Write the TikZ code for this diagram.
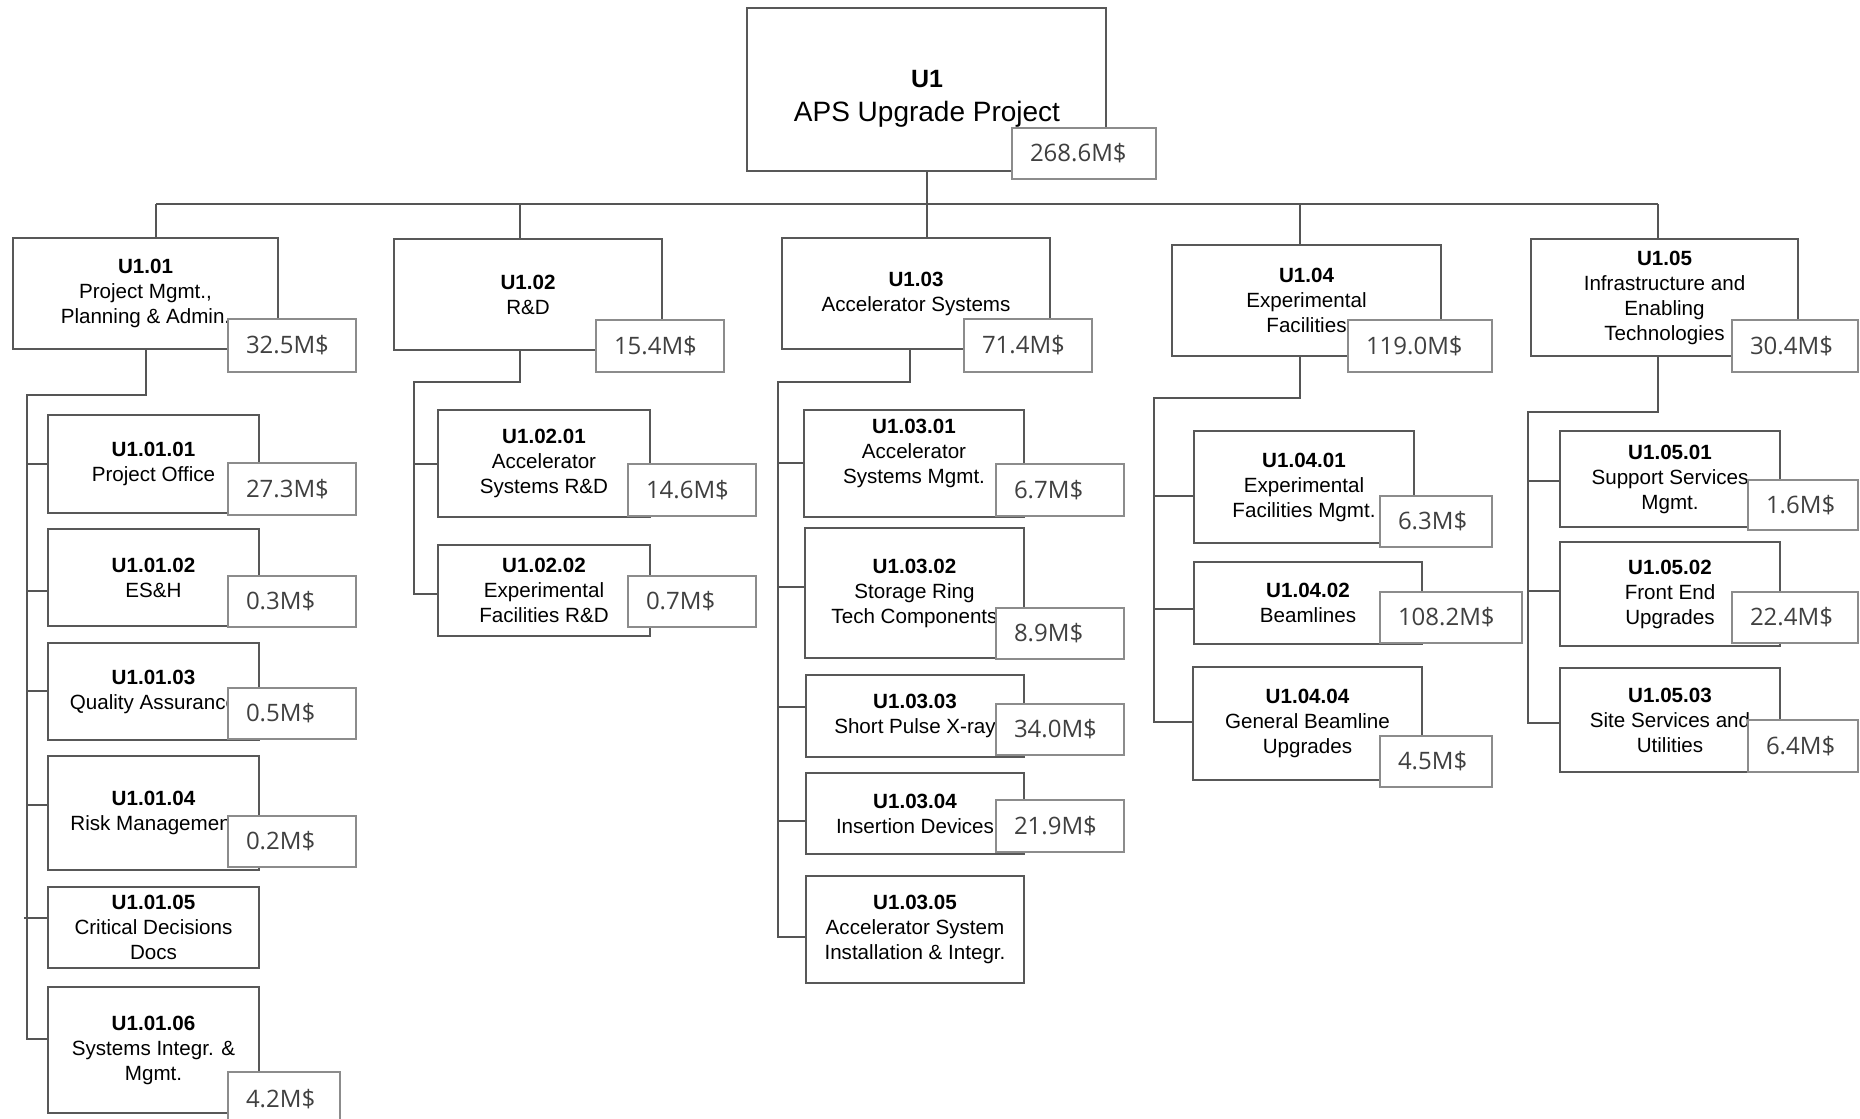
\documentclass[tikz,border=0pt]{standalone}
\usepackage{fontspec}
\setmainfont{Liberation Sans}
\newfontfamily\costfont{Open Sans}
\definecolor{boxline}{HTML}{585858}
\definecolor{costline}{HTML}{8C8C8C}
\definecolor{costtext}{HTML}{404040}
\definecolor{linkline}{HTML}{555555}
\tikzset{
  wbsbox/.style={draw=boxline, line width=0.9pt, fill=white, inner sep=1pt, align=center, font=\fontsize{10.3}{12.5}\selectfont},
  costbox/.style={draw=costline, line width=0.9pt, fill=white, inner xsep=9pt, inner ysep=0pt, align=left, font=\costfont\fontsize{12}{14}\selectfont, text=costtext},
  link/.style={draw=linkline, line width=0.9pt},
}
\newcommand\wbsnode[6]{%
  \pgfmathsetmacro\wbsW{(#4-#2)*0.5}%
  \pgfmathsetmacro\wbsH{(#5-#3)*0.5}%
  \pgfmathsetmacro\wbsX{(#2+#4)/2}%
  \pgfmathsetmacro\wbsY{(#3+#5)/2}%
  \node[wbsbox, minimum width=\wbsW pt, minimum height=\wbsH pt] (#1) at (\wbsX,\wbsY) {#6};%
}
\newcommand\costnode[6]{%
  \pgfmathsetmacro\wbsW{(#4-#2)*0.5-18}%
  \pgfmathsetmacro\wbsH{(#5-#3)*0.5}%
  \pgfmathsetmacro\wbsX{(#2+#4)/2}%
  \pgfmathsetmacro\wbsY{(#3+#5)/2}%
  \node[costbox, text width=\wbsW pt, minimum height=\wbsH pt] (#1) at (\wbsX,\wbsY) {\raisebox{-3.2pt}{#6}};%
}
\begin{document}
\begin{tikzpicture}[x=0.5pt,y=-0.5pt]
\useasboundingbox[fill=white] (0,0) rectangle (1860,1119);

% ---- top
\wbsnode{u1}{747}{8}{1106}{171}{}
\node[font=\fontsize{14}{17}\selectfont, align=center] (u1txt) at (927,99) {{\fontsize{12.5}{15}\selectfont\bfseries U1}\\APS Upgrade Project};
\costnode{k1}{1012}{128}{1156}{179}{268.6M\$}

% ---- level 1
\wbsnode{u101}{13}{238}{278}{349}{\textbf{U1.01}\\Project Mgmt.,\\Planning \& Admin.}
\costnode{k101}{228}{319}{356}{372}{32.5M\$}
\wbsnode{u102}{394}{239}{662}{350}{\textbf{U1.02}\\R\&D}
\costnode{k102}{596}{320}{724}{372}{15.4M\$}
\wbsnode{u103}{782}{238}{1050}{349}{\textbf{U1.03}\\Accelerator Systems}
\costnode{k103}{964}{319}{1092}{372}{71.4M\$}
\wbsnode{u104}{1172}{245}{1441}{356}{\textbf{U1.04}\\Experimental\\Facilities}
\costnode{k104}{1348}{320}{1492}{372}{119.0M\$}
\wbsnode{u105}{1531}{239}{1798}{356}{\textbf{U1.05}\\Infrastructure and\\Enabling\\Technologies}
\costnode{k105}{1732}{320}{1858}{372}{30.4M\$}

% ---- U1.01 children
\wbsnode{u10101}{48}{415}{259}{513}{\textbf{U1.01.01}\\Project Office}
\costnode{k10101}{228}{463}{356}{515}{27.3M\$}
\wbsnode{u10102}{48}{529}{259}{626}{\textbf{U1.01.02}\\ES\&H}
\costnode{k10102}{228}{576}{356}{627}{0.3M\$}
\wbsnode{u10103}{48}{643}{259}{740}{\textbf{U1.01.03}\\Quality Assurance}
\costnode{k10103}{228}{688}{356}{739}{0.5M\$}
\wbsnode{u10104}{48}{756}{259}{870}{\textbf{U1.01.04}\\Risk Management}
\costnode{k10104}{228}{816}{356}{867}{0.2M\$}
\wbsnode{u10105}{48}{887}{259}{968}{\textbf{U1.01.05}\\Critical Decisions\\Docs}
\wbsnode{u10106}{48}{987}{259}{1113}{\textbf{U1.01.06}\\Systems Integr. \&\\Mgmt.}
\costnode{k10106}{228}{1072}{340}{1126}{4.2M\$}

% ---- U1.02 children
\wbsnode{u10201}{438}{410}{650}{517}{\textbf{U1.02.01}\\Accelerator\\Systems R\&D}
\costnode{k10201}{628}{464}{756}{516}{14.6M\$}
\wbsnode{u10202}{438}{545}{650}{636}{\textbf{U1.02.02}\\Experimental\\Facilities R\&D}
\costnode{k10202}{628}{576}{756}{627}{0.7M\$}

% ---- U1.03 children
\wbsnode{u10301}{804}{410}{1024}{517}{\textbf{U1.03.01}\\Accelerator\\Systems Mgmt.\\~}
\costnode{k10301}{996}{464}{1124}{516}{6.7M\$}
\wbsnode{u10302}{805}{528}{1024}{658}{\textbf{U1.03.02}\\Storage Ring\\Tech Components}
\costnode{k10302}{996}{608}{1124}{659}{8.9M\$}
\wbsnode{u10303}{806}{675}{1024}{757}{\textbf{U1.03.03}\\Short Pulse X-ray}
\costnode{k10303}{996}{704}{1124}{755}{34.0M\$}
\wbsnode{u10304}{806}{773}{1024}{854}{\textbf{U1.03.04}\\Insertion Devices}
\costnode{k10304}{996}{800}{1124}{852}{21.9M\$}
\wbsnode{u10305}{806}{876}{1024}{983}{\textbf{U1.03.05}\\Accelerator System\\Installation \& Integr.}

% ---- U1.04 children
\wbsnode{u10401}{1194}{431}{1414}{543}{\textbf{U1.04.01}\\Experimental\\Facilities Mgmt.}
\costnode{k10401}{1380}{496}{1492}{547}{6.3M\$}
\wbsnode{u10402}{1194}{562}{1422}{644}{\textbf{U1.04.02}\\Beamlines}
\costnode{k10402}{1380}{592}{1522}{643}{108.2M\$}
\wbsnode{u10404}{1193}{667}{1422}{780}{\textbf{U1.04.04}\\General Beamline\\Upgrades}
\costnode{k10404}{1380}{736}{1492}{787}{4.5M\$}

% ---- U1.05 children
\wbsnode{u10501}{1560}{431}{1780}{527}{\textbf{U1.05.01}\\Support Services\\Mgmt.}
\costnode{k10501}{1748}{480}{1858}{530}{1.6M\$}
\wbsnode{u10502}{1560}{542}{1780}{646}{\textbf{U1.05.02}\\Front End\\Upgrades}
\costnode{k10502}{1732}{592}{1858}{643}{22.4M\$}
\wbsnode{u10503}{1560}{668}{1780}{772}{\textbf{U1.05.03}\\Site Services and\\Utilities}
\costnode{k10503}{1748}{720}{1858}{772}{6.4M\$}

% ---- bus
\coordinate (b1) at (156,204);
\coordinate (b2) at (520,204);
\coordinate (b3) at (927,204);
\coordinate (b4) at (1300,204);
\coordinate (b5) at (1658,204);
\draw[link] (u1.south -| b3) -- (b3);
\draw[link] (b1) -- (b5);
\draw[link] (b1) -- (b1 |- u101.north);
\draw[link] (b2) -- (b2 |- u102.north);
\draw[link] (b3) -- (b3 |- u103.north);
\draw[link] (b4) -- (b4 |- u104.north);
\draw[link] (b5) -- (b5 |- u105.north);

% ---- spine U1.01
\coordinate (j1) at (146,395);
\coordinate (s1) at (27,395);
\coordinate (c10101) at (27,464);
\coordinate (c10102) at (27,591);
\coordinate (c10103) at (27,691);
\coordinate (c10104) at (27,805);
\coordinate (c10105) at (24,918);
\coordinate (c10106) at (27,1039);
\draw[link] (j1 |- u101.south) -- (j1) -- (s1) -- (c10106) -- (c10106 -| u10106.west);
\draw[link] (c10101) -- (c10101 -| u10101.west);
\draw[link] (c10102) -- (c10102 -| u10102.west);
\draw[link] (c10103) -- (c10103 -| u10103.west);
\draw[link] (c10104) -- (c10104 -| u10104.west);
\draw[link] (c10105) -- (c10105 -| u10105.west);

% ---- spine U1.02
\coordinate (j2) at (520,382);
\coordinate (s2) at (414,382);
\coordinate (c10201) at (414,464);
\coordinate (c10202) at (414,594);
\draw[link] (j2 |- u102.south) -- (j2) -- (s2) -- (c10202) -- (c10202 -| u10202.west);
\draw[link] (c10201) -- (c10201 -| u10201.west);

% ---- spine U1.03
\coordinate (j3) at (910,382);
\coordinate (s3) at (778,382);
\coordinate (c10301) at (778,463);
\coordinate (c10302) at (778,587);
\coordinate (c10303) at (778,707);
\coordinate (c10304) at (778,821);
\coordinate (c10305) at (778,937);
\draw[link] (j3 |- u103.south) -- (j3) -- (s3) -- (c10305) -- (c10305 -| u10305.west);
\draw[link] (c10301) -- (c10301 -| u10301.west);
\draw[link] (c10302) -- (c10302 -| u10302.west);
\draw[link] (c10303) -- (c10303 -| u10303.west);
\draw[link] (c10304) -- (c10304 -| u10304.west);

% ---- spine U1.04
\coordinate (j4) at (1300,398);
\coordinate (s4) at (1154,398);
\coordinate (c10401) at (1154,496);
\coordinate (c10402) at (1154,609);
\coordinate (c10404) at (1154,722);
\draw[link] (j4 |- u104.south) -- (j4) -- (s4) -- (c10404) -- (c10404 -| u10404.west);
\draw[link] (c10401) -- (c10401 -| u10401.west);
\draw[link] (c10402) -- (c10402 -| u10402.west);

% ---- spine U1.05
\coordinate (j5) at (1658,412);
\coordinate (s5) at (1528,412);
\coordinate (c10501) at (1528,481);
\coordinate (c10502) at (1528,591);
\coordinate (c10503) at (1528,723);
\draw[link] (j5 |- u105.south) -- (j5) -- (s5) -- (c10503) -- (c10503 -| u10503.west);
\draw[link] (c10501) -- (c10501 -| u10501.west);
\draw[link] (c10502) -- (c10502 -| u10502.west);
\end{tikzpicture}
\end{document}
